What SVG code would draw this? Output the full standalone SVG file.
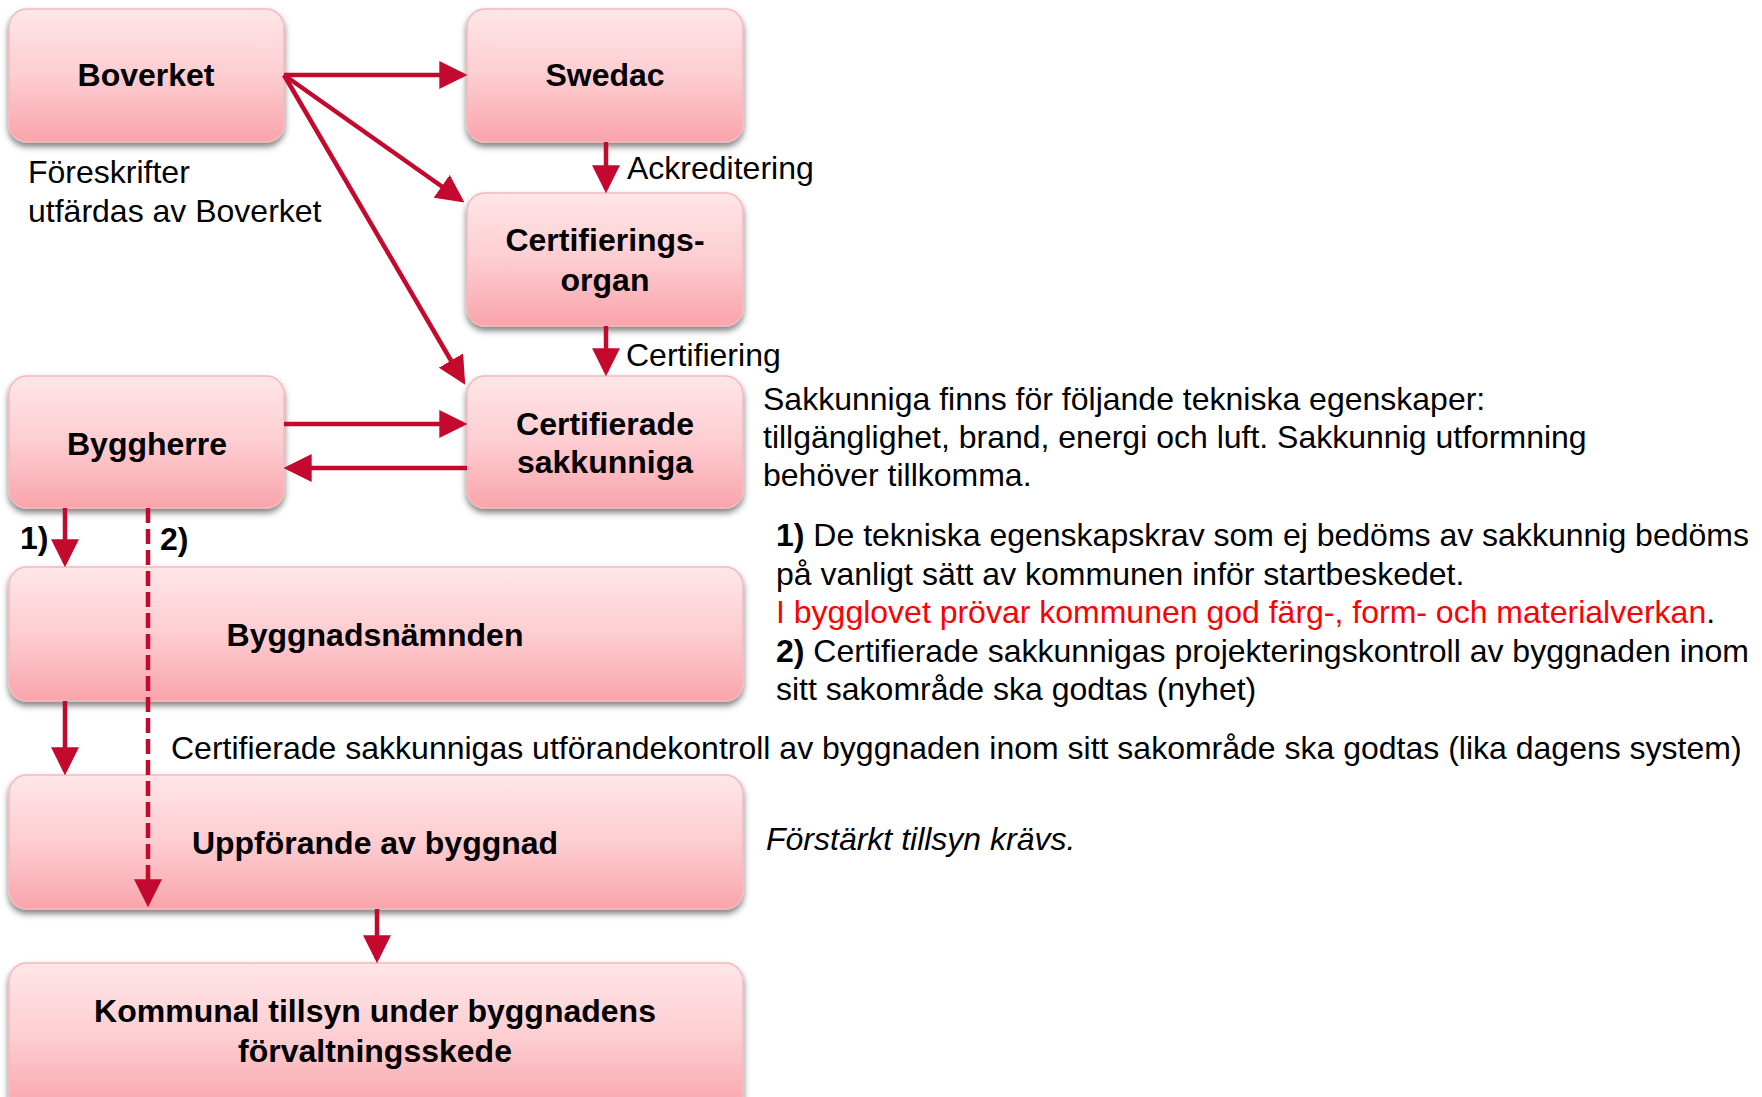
<svg xmlns="http://www.w3.org/2000/svg" width="1762" height="1097" viewBox="0 0 1762 1097">
<style>
.box{fill:url(#g);stroke:#f4b9bd;stroke-width:1.5;filter:url(#sh)}
.nl{font-family:"Liberation Sans",Arial,sans-serif;font-weight:bold;font-size:32px;fill:#000;text-anchor:middle}
.t{font-family:"Liberation Sans",Arial,sans-serif;font-size:32px;fill:#000}
.b{font-weight:bold}
.c{stroke:#c30a2e;stroke-width:4.5;fill:none}
.d{stroke-dasharray:15 6}
</style>
<defs>
<linearGradient id="g" x1="0" y1="0" x2="0" y2="1">
<stop offset="0" stop-color="#ffe6e8"/>
<stop offset="0.5" stop-color="#fdcdd1"/>
<stop offset="1" stop-color="#f9a4aa"/>
</linearGradient>
<filter id="sh" x="-5%" y="-10%" width="110%" height="130%">
<feDropShadow dx="0" dy="4" stdDeviation="3" flood-color="#000" flood-opacity="0.5"/>
</filter>
<marker id="a" markerUnits="userSpaceOnUse" markerWidth="28" markerHeight="28" viewBox="0 0 26 26" refX="22" refY="13" orient="auto">
<path d="M0,0 L26,13 L0,26 z" fill="#c30a2e"/>
</marker>
</defs>

<g id="node-boverket">
<rect class="box" x="9" y="9" width="275" height="133" rx="18"/>
<text class="nl" x="146" y="86">Boverket</text>
</g>
<g id="node-swedac">
<rect class="box" x="467" y="9" width="276" height="133" rx="18"/>
<text class="nl" x="605" y="86">Swedac</text>
</g>
<g id="node-certorgan">
<rect class="box" x="467" y="193" width="276" height="133" rx="18"/>
<text class="nl" x="605" y="251">Certifierings-</text>
<text class="nl" x="605" y="291">organ</text>
</g>
<g id="node-certsakk">
<rect class="box" x="467" y="376" width="276" height="132" rx="18"/>
<text class="nl" x="605" y="435">Certifierade</text>
<text class="nl" x="605" y="473">sakkunniga</text>
</g>
<g id="node-byggherre">
<rect class="box" x="9" y="376" width="275" height="132" rx="18"/>
<text class="nl" x="147" y="455">Byggherre</text>
</g>
<g id="node-byggnadsnamnden">
<rect class="box" x="9" y="567" width="734" height="134" rx="18"/>
<text class="nl" x="375" y="646">Byggnadsnämnden</text>
</g>
<g id="node-uppforande">
<rect class="box" x="9" y="775" width="734" height="134" rx="18"/>
<text class="nl" x="375" y="854">Uppförande av byggnad</text>
</g>
<g id="node-kommunal">
<rect class="box" x="9" y="963" width="734" height="150" rx="18"/>
<text class="nl" x="375" y="1022">Kommunal tillsyn under byggnadens</text>
<text class="nl" x="375" y="1062">förvaltningsskede</text>
</g>

<g id="connectors">
<line class="c" x1="284" y1="75" x2="463" y2="75" marker-end="url(#a)"/>
<line class="c" x1="284" y1="75" x2="461" y2="200" marker-end="url(#a)"/>
<line class="c" x1="284" y1="75" x2="463" y2="381" marker-end="url(#a)"/>
<line class="c" x1="606" y1="142" x2="606" y2="189" marker-end="url(#a)"/>
<line class="c" x1="606" y1="326" x2="606" y2="372" marker-end="url(#a)"/>
<line class="c" x1="284" y1="424" x2="463" y2="424" marker-end="url(#a)"/>
<line class="c" x1="467" y1="468" x2="288" y2="468" marker-end="url(#a)"/>
<line class="c" x1="65" y1="508" x2="65" y2="563" marker-end="url(#a)"/>
<line class="c d" x1="148" y1="508" x2="148" y2="903" marker-end="url(#a)"/>
<line class="c" x1="65" y1="701" x2="65" y2="771" marker-end="url(#a)"/>
<line class="c" x1="377" y1="909" x2="377" y2="959" marker-end="url(#a)"/>
</g>

<g id="labels">
<text class="t" x="28" y="183">Föreskrifter</text>
<text class="t" x="28" y="222">utfärdas av Boverket</text>
<text class="t" x="627" y="179">Ackreditering</text>
<text class="t" x="626" y="366">Certifiering</text>
<text class="t" x="763" y="410">Sakkunniga finns för följande tekniska egenskaper:</text>
<text class="t" x="763" y="448">tillgänglighet, brand, energi och luft. Sakkunnig utformning</text>
<text class="t" x="763" y="486">behöver tillkomma.</text>
<text class="t b" x="20" y="549">1)</text>
<text class="t b" x="160" y="550">2)</text>
<text class="t" x="776" y="546"><tspan class="b">1)</tspan> De tekniska egenskapskrav som ej bedöms av sakkunnig bedöms</text>
<text class="t" x="776" y="585">på vanligt sätt av kommunen inför startbeskedet.</text>
<text class="t" x="776" y="623"><tspan fill="#ff0000">I bygglovet prövar kommunen god färg-, form- och materialverkan</tspan>.</text>
<text class="t" x="776" y="662"><tspan class="b">2)</tspan> Certifierade sakkunnigas projekteringskontroll av byggnaden inom</text>
<text class="t" x="776" y="700">sitt sakområde ska godtas (nyhet)</text>
<text class="t" x="171" y="759">Certifierade sakkunnigas utförandekontroll av byggnaden inom sitt sakområde ska godtas (lika dagens system)</text>
<text class="t" x="766" y="850" font-style="italic">Förstärkt tillsyn krävs.</text>
</g>
</svg>
